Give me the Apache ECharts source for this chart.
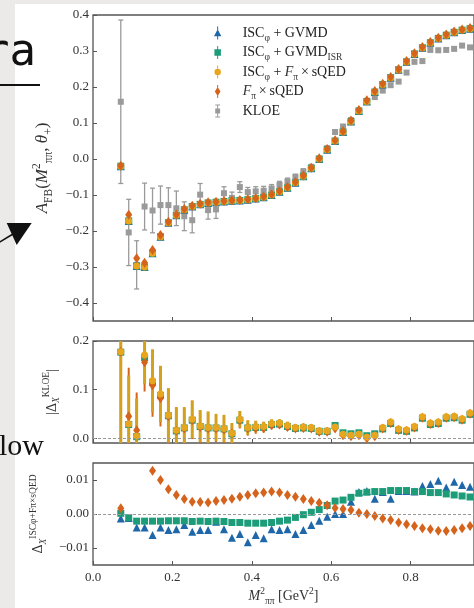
<!DOCTYPE html>
<html>
<head>
<meta charset="utf-8">
<script src="https://cdn.jsdelivr.net/npm/echarts@6.0.0/dist/echarts.min.js"></script>
<style>
  html, body { margin: 0; padding: 0; background: #ebeae8; }
  #sheet { position: absolute; left: 15px; top: 4px; right: 0; bottom: 0; background: #fff; }
  #chart { position: absolute; left: 0; top: 0; width: 474px; height: 608px; }
</style>
</head>
<body>
<div id="sheet"></div>
<div id="chart"></div>
<script>
// M_pipi^2 bin centres [GeV^2]
const mass2 = [0.07, 0.09, 0.11, 0.13, 0.15, 0.17, 0.19, 0.21, 0.23, 0.25, 0.27, 0.29, 0.31, 0.33, 0.35,
  0.37, 0.39, 0.41, 0.43, 0.45, 0.47, 0.49, 0.51, 0.53, 0.55, 0.57, 0.59, 0.61, 0.63, 0.65,
  0.67, 0.69, 0.71, 0.73, 0.75, 0.77, 0.79, 0.81, 0.83, 0.85, 0.87, 0.89, 0.91, 0.93, 0.95]

// top panel: A_FB
const afbModel = [-0.02, -0.172, -0.297, -0.30, -0.262, -0.216, -0.177, -0.156, -0.141, -0.132, -0.126, -0.122, -0.12, -0.118, -0.116,
  -0.115, -0.113, -0.11, -0.106, -0.1, -0.091, -0.08, -0.066, -0.048, -0.026, 0.0, 0.026, 0.05, 0.075, 0.104,
  0.133, 0.16, 0.186, 0.207, 0.226, 0.248, 0.27, 0.292, 0.309, 0.323, 0.335, 0.344, 0.352, 0.358, 0.362]
const afbOrange = [-0.019, -0.155, -0.276, -0.288, -0.253, -0.211, -0.174, -0.154, -0.139, -0.13, -0.124, -0.12, -0.119, -0.117, -0.115,
  -0.114, -0.112, -0.109, -0.104, -0.098, -0.089, -0.078, -0.064, -0.046, -0.024, 0.002, 0.028, 0.052, 0.077, 0.107,
  0.136, 0.163, 0.189, 0.209, 0.228, 0.25, 0.272, 0.294, 0.311, 0.325, 0.337, 0.346, 0.354, 0.36, 0.364]
const afbKloe = [0.159, -0.204, -0.294, -0.132, -0.143, -0.128, -0.128, -0.137, -0.159, -0.17, -0.099, -0.142, -0.14, -0.095, -0.108,
  -0.078, -0.092, -0.09, -0.088, -0.082, -0.072, -0.062, -0.05, -0.035, -0.022, 0.0, 0.03, 0.075, 0.09, 0.108,
  0.135, 0.16, 0.172, 0.19, 0.205, 0.215, 0.24, 0.27, 0.272, 0.303, 0.302, 0.303, 0.306, 0.315, 0.31]
const afbKloeErr = [0.227, 0.092, 0.067, 0.065, 0.062, 0.053, 0.048, 0.048, 0.04, 0.035, 0.031, 0.025, 0.025, 0.018, 0.016,
  0.015, 0.013, 0.013, 0.012, 0.011, 0.01, 0.009, 0.008, 0.008, 0.007, 0.007, 0.006, 0.006, 0.006, 0.006,
  0.006, 0.006, 0.005, 0.005, 0.005, 0.005, 0.005, 0.005, 0.005, 0.005, 0.005, 0.005, 0.005, 0.005, 0.005]

// middle panel: |Delta_X^KLOE|
const dKloeYellow = [0.178, 0.029, 0.004, 0.171, 0.118, 0.091, 0.047, 0.016, 0.022, 0.039, 0.025, 0.022, 0.022, 0.02, 0.01,
  0.039, 0.022, 0.024, 0.024, 0.03, 0.031, 0.026, 0.022, 0.023, 0.022, 0.015, 0.015, 0.023, 0.008, 0.006,
  0.008, 0.002, 0.006, 0.022, 0.033, 0.019, 0.017, 0.024, 0.044, 0.031, 0.033, 0.044, 0.045, 0.04, 0.052]
const dKloeOrange = [0.178, 0.045, 0.016, 0.156, 0.109, 0.082, 0.045, 0.015, 0.02, 0.037, 0.023, 0.02, 0.02, 0.018, 0.01,
  0.037, 0.02, 0.021, 0.021, 0.027, 0.028, 0.023, 0.02, 0.021, 0.02, 0.013, 0.013, 0.02, 0.006, 0.004,
  0.006, 0.0, 0.004, 0.02, 0.031, 0.017, 0.015, 0.022, 0.042, 0.029, 0.031, 0.042, 0.043, 0.038, 0.05]
const dKloeGreen = [0.177, 0.028, 0.003, 0.166, 0.115, 0.088, 0.046, 0.015, 0.021, 0.037, 0.024, 0.021, 0.021, 0.019, 0.009,
  0.037, 0.021, 0.022, 0.022, 0.028, 0.029, 0.024, 0.02, 0.021, 0.02, 0.014, 0.014, 0.026, 0.011, 0.009,
  0.011, 0.005, 0.009, 0.019, 0.03, 0.016, 0.014, 0.021, 0.041, 0.028, 0.03, 0.041, 0.042, 0.037, 0.049]
const dKloeErr = [0.25, 0.1, 0.078, 0.06, 0.065, 0.058, 0.056, 0.048, 0.042, 0.039, 0.033, 0.033, 0.028, 0.028, 0.021,
  0.017, 0.015, 0.012, 0.01, 0.009, 0.008, 0.008, 0.007, 0.007, 0.006, 0.006, 0.006, 0.006, 0.005, 0.005,
  0.005, 0.005, 0.005, 0.005, 0.005, 0.005, 0.005, 0.005, 0.005, 0.005, 0.005, 0.005, 0.005, 0.005, 0.005]

// bottom panel: Delta_X relative to ISC + F x sQED
const dRefOrange = [0.0017, null, null, null, 0.0127, 0.010, 0.0073, 0.0056, 0.0044, 0.0036, 0.0035, 0.0034, 0.0038, 0.0041, 0.0045,
  0.0051, 0.0056, 0.0061, 0.0063, 0.0066, 0.0063, 0.0056, 0.0051, 0.0044, 0.0038, 0.0033, 0.0026, 0.0018, 0.0015, 0.0012,
  0.0004, 0.0, -0.0006, -0.0013, -0.0018, -0.0025, -0.003, -0.0035, -0.0042, -0.0045, -0.0049, -0.005, -0.0047, -0.0042, -0.0035]
const dRefGreen = [0.0002, -0.0011, -0.0021, -0.0021, -0.0021, -0.0021, -0.002, -0.002, -0.002, -0.0022, -0.0021, -0.0022, -0.0021, -0.0022, -0.0025,
  -0.0025, -0.0027, -0.0027, -0.0027, -0.0025, -0.0021, -0.0018, -0.001, -0.0002, 0.0005, 0.0013, 0.0025, 0.0038, 0.0041, 0.0049,
  0.0061, 0.0064, 0.0066, 0.0066, 0.0069, 0.0069, 0.0069, 0.0066, 0.0066, 0.0063, 0.0063, 0.0059, 0.0056, 0.0053, 0.005]
const dRefBlue = [-0.0013, -0.0012, -0.004, -0.004, -0.0062, -0.004, -0.0047, -0.0045, -0.0032, -0.0052, -0.0047, -0.0047, -0.0023, -0.0045, -0.007,
  -0.0059, -0.0083, -0.0062, -0.0071, -0.0045, -0.0047, -0.0045, -0.0059, -0.0047, -0.0032, -0.002, -0.0008, 0.0, 0.0, 0.0036,
  0.0065, 0.0068, 0.0045, 0.0065, 0.0045, 0.0068, 0.0068, 0.0066, 0.0082, 0.0088, 0.0098, 0.0078, 0.0095, 0.0085, 0.008]

const xTicks = [0, 0.2, 0.4, 0.6, 0.8]
const afbTicks = [-0.4, -0.3, -0.2, -0.1, 0, 0.1, 0.2, 0.3, 0.4]
const kloeTicks = [0, 0.1, 0.2]
const refTicks = [-0.01, 0, 0.01]

const names = ['ISC + GVMD', 'ISC + GVMD ISR', 'ISC + F x sQED', 'F x sQED', 'KLOE']
const colors = { blue: '#1f67a8', green: '#1c9c78', yellow: '#e7a61d', orange: '#d5631b', gray: '#9a9a9a' }

const serif = "'Liberation Serif', 'DejaVu Serif', serif"
const ink = '#333'

const chart = echarts.init(document.getElementById('chart'))

const pts = (ys) => mass2.map((x, i) => [x, ys[i]]).filter(p => p[1] !== null)
const errPts = (ys, es) => mass2.map((x, i) => [x, ys[i], es[i]]).filter(p => p[1] !== null)

const scatter = (name, gi, ys, symbol, size, color) => ({
  type: 'scatter', name, xAxisIndex: gi, yAxisIndex: gi, data: pts(ys),
  symbol, symbolSize: size, itemStyle: { color, opacity: 1 }, silent: true
})

const errorBars = (name, gi, ys, es, color, width, cap) => ({
  type: 'custom', name, xAxisIndex: gi, yAxisIndex: gi, data: errPts(ys, es), clip: true, silent: true,
  encode: { x: 0, y: 1 },
  renderItem: function (params, api) {
    const x = api.value(0), y = api.value(1), e = api.value(2)
    const p1 = api.coord([x, y + e])
    const p2 = api.coord([x, y - e])
    const st = { stroke: color, lineWidth: width }
    const children = [{ type: 'line', shape: { x1: p1[0], y1: p1[1], x2: p2[0], y2: p2[1] }, style: st }]
    if (cap) {
      children.push({ type: 'line', shape: { x1: p1[0] - cap, y1: p1[1], x2: p1[0] + cap, y2: p1[1] }, style: st })
      children.push({ type: 'line', shape: { x1: p2[0] - cap, y1: p2[1], x2: p2[0] + cap, y2: p2[1] }, style: st })
    }
    return { type: 'group', children }
  }
})

const zeroLine = {
  silent: true, symbol: 'none', label: { show: false }, animation: false,
  lineStyle: { type: [3, 2], color: '#999', width: 1 },
  data: [{ yAxis: 0 }]
}

const rich = {
  i: { fontFamily: serif, fontStyle: 'italic', fontSize: 14, color: ink },
  s: { fontFamily: serif, fontSize: 9.5, color: ink, verticalAlign: 'bottom', lineHeight: 20 },
  si: { fontFamily: serif, fontStyle: 'italic', fontSize: 9.5, color: ink, verticalAlign: 'bottom', lineHeight: 20 },
  p: { fontFamily: serif, fontSize: 9.5, color: ink, verticalAlign: 'top', lineHeight: 20 },
  n: { fontFamily: serif, fontSize: 14, color: ink }
}
// larger set for the top y title
const richBig = {
  i: { fontFamily: serif, fontStyle: 'italic', fontSize: 17, color: ink },
  s: { fontFamily: serif, fontSize: 11.5, color: ink, verticalAlign: 'bottom', lineHeight: 24 },
  p: { fontFamily: serif, fontSize: 11.5, color: ink, verticalAlign: 'top', lineHeight: 24 },
  n: { fontFamily: serif, fontSize: 17, color: ink }
}

const fmt = (d) => (v) => (v < 0 ? '\u2212' : '') + Math.abs(v).toFixed(d)

const grids = [
  { left: 93, top: 15, width: 387.4, height: 306 },
  { left: 93, top: 341, width: 387.4, height: 102 },
  { left: 93, top: 463, width: 387.4, height: 102 }
].map(g => Object.assign(g, { show: true, backgroundColor: '#fff', borderColor: '#555', borderWidth: 1.3 }))

const xAxes = [0, 1, 2].map(i => ({
  type: 'value', gridIndex: i, min: 0, max: 0.96,
  axisLine: { show: false, onZero: false }, splitLine: { show: false },
  axisTick: { show: true, inside: true, length: 4, customValues: xTicks, lineStyle: { color: '#555' } },
  axisLabel: {
    show: i === 2, customValues: xTicks, formatter: fmt(1), margin: 6,
    fontFamily: serif, fontSize: 13, color: ink
  },
  name: i === 2 ? '{i|M}{p|2}{s|\u03c0\u03c0} {n|[GeV}{p|2}{n|]}' : '',
  nameLocation: 'middle', nameGap: 21,
  nameTextStyle: { fontFamily: serif, fontSize: 14, color: ink, rich }
}))

const yAxis = (i, min, max, ticks, dec, name, gap, r) => ({
  type: 'value', gridIndex: i, min, max,
  axisLine: { show: false, onZero: false }, splitLine: { show: false },
  axisTick: { show: true, inside: true, length: 4, customValues: ticks, lineStyle: { color: '#555' } },
  axisLabel: { customValues: ticks, formatter: fmt(dec), margin: 4, fontFamily: serif, fontSize: 13, color: ink },
  name, nameLocation: 'middle', nameRotate: 90, nameGap: gap,
  nameTextStyle: { fontFamily: serif, fontSize: 14, color: ink, rich: r }
})

const yAxes = [
  yAxis(0, -0.45, 0.4, afbTicks, 1, '{i|A}{s|FB}{n|(}{i|M}{p|2}{s|\u03c0\u03c0}{n|, }{i|\u03b8}{s|+}{n|)}', 31, richBig),
  yAxis(1, -0.01, 0.2, kloeTicks, 1, '{n||\u0394}{si|X}{p|KLOE}{n||}', 26, rich),
  yAxis(2, -0.015, 0.015, refTicks, 2, '{n|\u0394}{si|X}{p|ISC\u03c6+F\u03c0\u00d7sQED}', 30, rich)
]

const series = [
  // top panel
  errorBars('KLOE', 0, afbKloe, afbKloeErr, colors.gray, 1.3, 2.5),
  scatter('KLOE', 0, afbKloe, 'rect', 6, colors.gray),
  scatter(names[0], 0, afbModel, 'triangle', 8, colors.blue),
  scatter(names[1], 0, afbModel, 'rect', 7, colors.green),
  scatter(names[2], 0, afbModel, 'circle', 7, colors.yellow),
  scatter(names[3], 0, afbOrange, 'diamond', [7, 10], colors.orange),
  // middle panel
  Object.assign(errorBars(names[3], 1, dKloeOrange, dKloeErr, colors.orange, 2, 0), { markLine: zeroLine }),
  scatter(names[1], 1, dKloeGreen, 'rect', 7, colors.green),
  scatter(names[3], 1, dKloeOrange, 'diamond', [7, 10], colors.orange),
  errorBars(names[2], 1, dKloeYellow, dKloeErr, '#d3a11e', 3, 0),
  scatter(names[2], 1, dKloeYellow, 'circle', 7, colors.yellow),
  // bottom panel
  Object.assign(scatter(names[0], 2, dRefBlue, 'triangle', 8, colors.blue), { markLine: zeroLine }),
  scatter(names[1], 2, dRefGreen, 'rect', 7, colors.green),
  scatter(names[3], 2, dRefOrange, 'diamond', [7, 10], colors.orange)
]

const bar = 'M4.4,0h1.2v16h-1.2z '
const legendIcons = [
  'path://' + bar + 'M5,3.5L9.5,12H0.5z',
  'path://' + bar + 'M1,4h8v8h-8z',
  'path://' + bar + 'M9,8A4,4,0,1,1,1,8A4,4,0,1,1,9,8z',
  'path://' + bar + 'M5,2.5L8.5,8L5,13.5L1.5,8z',
  'path://' + bar + 'M2,0h6v1.2h-6z M2,14.8h6v1.2h-6z M2,5h6v6h-6z'
]
const legendText = [
  'ISC{s|\u03c6} + GVMD',
  'ISC{s|\u03c6} + GVMD{s|ISR}',
  'ISC{s|\u03c6} + {i|F}{s|\u03c0}\u2009\u00d7\u2009sQED',
  '{i|F}{s|\u03c0}\u2009\u00d7\u2009sQED',
  'KLOE'
]

chart.setOption({
  animation: false,
  grid: grids,
  xAxis: xAxes,
  yAxis: yAxes,
  legend: {
    orient: 'vertical', left: 209, top: 18,
    itemWidth: 40, itemHeight: 13, itemGap: -0.5,
    selectedMode: false,
    data: names.map((n, i) => ({ name: n, icon: legendIcons[i], itemStyle: { color: Object.values(colors)[i] } })),
    formatter: (n) => legendText[names.indexOf(n)],
    textStyle: { fontFamily: serif, fontSize: 14, color: '#222', lineHeight: 20, rich }
  },
  graphic: [
    { type: 'text', x: 36, y: 54, style: { text: 'ra', font: "44px 'DejaVu Sans Mono'", fill: '#111', align: 'right', verticalAlign: 'middle' } },
    { type: 'line', shape: { x1: 0, y1: 85, x2: 40, y2: 85 }, style: { stroke: '#111', lineWidth: 2 } },
    { type: 'line', shape: { x1: -2, y1: 243, x2: 13, y2: 234 }, style: { stroke: '#111', lineWidth: 1.5 } },
    { type: 'polygon', shape: { points: [[31.7, 223], [6.7, 223], [16.7, 245]] }, style: { fill: '#111' } },
    { type: 'text', x: -1, y: 447, style: { text: 'low', font: "30px 'Liberation Serif'", fill: '#111', verticalAlign: 'middle' } }
  ],
  series
})
</script>
</body>
</html>
